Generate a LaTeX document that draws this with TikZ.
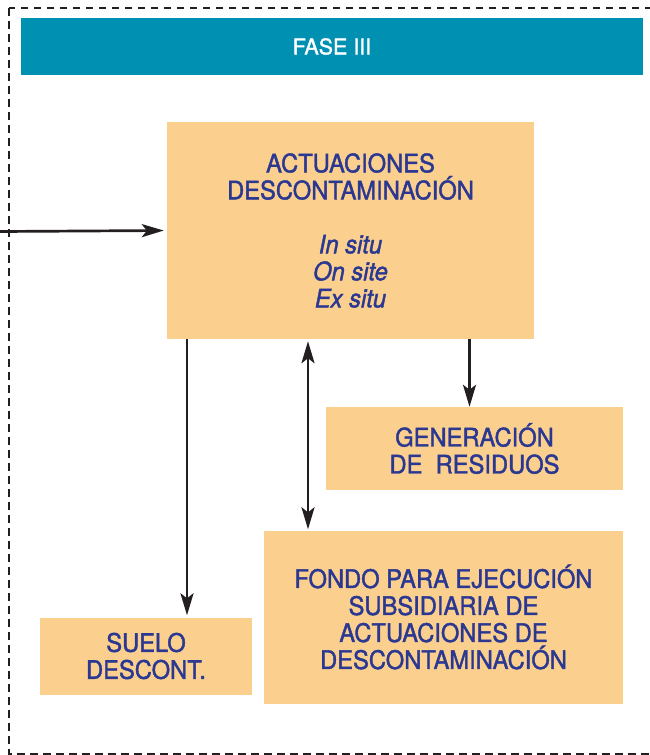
\documentclass[tikz,border=0pt]{standalone}
\usepackage{fontspec}
\setmainfont{TeX Gyre Heros}[FakeStretch=0.93,FakeBold=1.6]
\newfontfamily\cabecera{TeX Gyre Heros}[FakeBold=1.6]
\usepackage{tikz}
\usetikzlibrary{arrows.meta,positioning}
\definecolor{azulfase}{RGB}{0,145,178}
\definecolor{naranja}{RGB}{251,207,142}
\definecolor{azultexto}{RGB}{42,56,146}
\definecolor{negro}{RGB}{35,31,32}

\begin{document}
\begin{tikzpicture}
		[x=1pt,y=-1pt,
		caja/.style={rectangle,fill=naranja,inner sep=0pt,align=center,
			text=azultexto,font=\fontsize{25.5}{27}\selectfont},
		fase/.style={rectangle,fill=azulfase,inner sep=0pt,
			text=white,font=\cabecera\fontsize{21.5}{22}\selectfont},
		flecha/.style={draw=negro,line width=2.7pt,
			-{Stealth[length=22pt,width=13pt,inset=5pt]}},
		doble/.style={draw=negro,line width=2.7pt,
			{Stealth[length=22pt,width=13pt,inset=5pt]}-{Stealth[length=22pt,width=13pt,inset=5pt]}}]
		\useasboundingbox (0,0) rectangle (650,755);
		%---------------------borde discontinuo ------------
		\begin{scope}
		\clip (0,0) rectangle (650,755);
		\draw[negro,line width=2.4pt,dash pattern=on 7.5pt off 5.5pt] (9,8) rectangle (670,754);
		\end{scope}
		%---------------------cabecera ------------
		\node (fase) at (332,46.5) [fase,minimum width=622pt,minimum height=57pt] {FASE III};
		%---------------------cajas ------------
		\node (actuaciones) at (350.5,230.5) [caja,minimum width=367pt,minimum height=217pt]
		{ACTUACIONES\\DESCONTAMINACIÓN\\[27pt]\textit{In situ}\\\textit{On site}\\\textit{Ex situ}};
		\node (residuos) at (474.5,448.5) [caja,minimum width=297pt,minimum height=83pt]
		{GENERACIÓN\\DE\ \ RESIDUOS};
		\node (fondo) at (443.5,617) [caja,minimum width=359pt,minimum height=173pt]
		{FONDO PARA EJECUCIÓN\\SUBSIDIARIA DE\\ACTUACIONES DE\\DESCONTAMINACIÓN};
		\node (suelo) at (146,656) [caja,minimum width=212pt,minimum height=77pt]
		{SUELO\\DESCONT.};
		%---------------------flechas ------------
		\coordinate (entrada) at (0,231.5);
		\coordinate (c1) at (187,0);
		\coordinate (c2) at (308,0);
		\coordinate (c3) at (469.5,0);
		\draw[flecha,shorten >=3pt] (entrada) -- (actuaciones.west);
		\draw[flecha,shorten >=2pt] (c1 |- actuaciones.south) -- (c1 |- suelo.north);
		\draw[doble,shorten <=2pt,shorten >=1pt] (c2 |- actuaciones.south) -- (c2 |- fondo.north);
		\draw[flecha] (c3 |- actuaciones.south) -- (c3 |- residuos.north);
\end{tikzpicture}
\end{document}
